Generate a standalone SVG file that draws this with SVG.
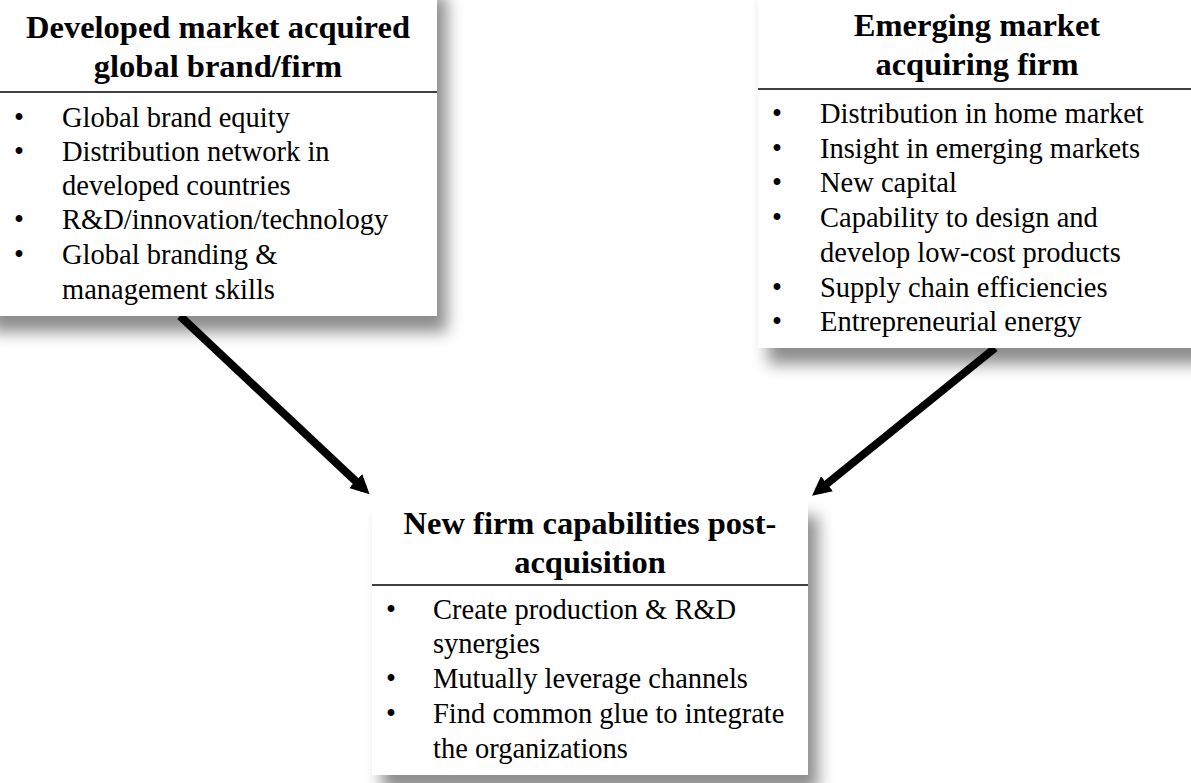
<svg xmlns="http://www.w3.org/2000/svg" width="1191" height="783" viewBox="0 0 1191 783">
<style>
.title{font-family:"Liberation Serif","Times New Roman",serif;font-weight:bold;font-size:32.5px;fill:#000;text-anchor:middle}
.body{font-family:"Liberation Serif","Times New Roman",serif;font-size:28.5px;fill:#000}
.box{fill:#fff;filter:url(#shadow)}
.rule{stroke:#000;stroke-width:1.5}
.conn{stroke:#000;stroke-width:8;fill:none;marker-end:url(#arrow)}
</style>
<defs>
<filter id="shadow" x="-10%" y="-10%" width="130%" height="140%">
<feDropShadow dx="10" dy="16" stdDeviation="8" flood-color="#000" flood-opacity="0.45"/>
</filter>
<marker id="arrow" viewBox="0 0 10 10" refX="6" refY="5" markerWidth="2.4" markerHeight="2.4" orient="auto" markerUnits="strokeWidth">
<path d="M0,0 L10,5 L0,10 Z" fill="#000"/>
</marker>
</defs>
<rect width="1191" height="783" fill="#fff"/>
<g id="connectors">
<line class="conn" x1="180" y1="316" x2="364" y2="489"/>
<line class="conn" x1="995" y1="348" x2="818" y2="491"/>
</g>
<g id="node-developed">
<rect class="box" x="-20" y="-20" width="457" height="336"/>
<text class="title" x="218" y="38">Developed market acquired</text>
<text class="title" x="218" y="77">global brand/firm</text>
<line class="rule" x1="0" y1="92" x2="437" y2="92"/>
<g class="body">
<text x="14" y="127">•</text><text x="62" y="127">Global brand equity</text>
<text x="14" y="161">•</text><text x="62" y="161">Distribution network in</text>
<text x="62" y="195">developed countries</text>
<text x="14" y="229">•</text><text x="62" y="229">R&amp;D/innovation/technology</text>
<text x="14" y="264">•</text><text x="62" y="264">Global branding &amp;</text>
<text x="62" y="299">management skills</text>
</g>
</g>
<g id="node-emerging">
<rect class="box" x="758" y="-20" width="453" height="368"/>
<text class="title" x="977" y="36">Emerging market</text>
<text class="title" x="977" y="75">acquiring firm</text>
<line class="rule" x1="758" y1="89" x2="1191" y2="89"/>
<g class="body">
<text x="772" y="123">•</text><text x="820" y="123">Distribution in home market</text>
<text x="772" y="158">•</text><text x="820" y="158">Insight in emerging markets</text>
<text x="772" y="192">•</text><text x="820" y="192">New capital</text>
<text x="772" y="227">•</text><text x="820" y="227">Capability to design and</text>
<text x="820" y="262">develop low-cost products</text>
<text x="772" y="297">•</text><text x="820" y="297">Supply chain efficiencies</text>
<text x="772" y="331">•</text><text x="820" y="331">Entrepreneurial energy</text>
</g>
</g>
<g id="node-new">
<rect class="box" x="372" y="500" width="436" height="275"/>
<text class="title" x="590" y="534">New firm capabilities post-</text>
<text class="title" x="590" y="573">acquisition</text>
<line class="rule" x1="372" y1="585" x2="808" y2="585"/>
<g class="body">
<text x="386" y="619">•</text><text x="433" y="619">Create production &amp; R&amp;D</text>
<text x="433" y="653">synergies</text>
<text x="386" y="688">•</text><text x="433" y="688">Mutually leverage channels</text>
<text x="386" y="723">•</text><text x="433" y="723">Find common glue to integrate</text>
<text x="433" y="758">the organizations</text>
</g>
</g>
</svg>
